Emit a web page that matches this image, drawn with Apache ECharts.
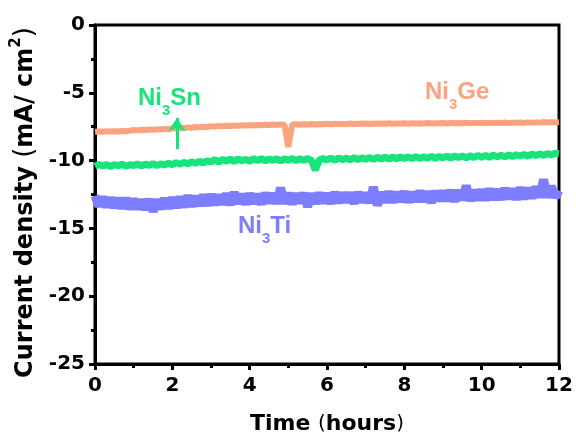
<!DOCTYPE html>
<html>
<head>
<meta charset="utf-8">
<script src="https://cdn.jsdelivr.net/npm/echarts@6/dist/echarts.min.js"></script>
<style>html,body{margin:0;padding:0;background:#fff;}#c{width:576px;height:440px;}</style>
</head>
<body>
<div id="c"></div>
<script>
var xTicks = [0, 2, 4, 6, 8, 10, 12];
var yTicks = [-25, -20, -15, -10, -5, 0];

var time = [
0,0.1,0.2,0.3,0.4,0.5,0.6,0.7,0.8,0.9,
1,1.1,1.2,1.3,1.4,1.5,1.6,1.7,1.8,1.9,
2,2.1,2.2,2.3,2.4,2.5,2.6,2.7,2.8,2.9,
3,3.1,3.2,3.3,3.4,3.5,3.6,3.7,3.8,3.9,
4,4.1,4.2,4.3,4.4,4.5,4.6,4.7,4.8,4.9,
5,5.1,5.2,5.3,5.4,5.5,5.6,5.7,5.8,5.9,
6,6.1,6.2,6.3,6.4,6.5,6.6,6.7,6.8,6.9,
7,7.1,7.2,7.3,7.4,7.5,7.6,7.7,7.8,7.9,
8,8.1,8.2,8.3,8.4,8.5,8.6,8.7,8.8,8.9,
9,9.1,9.2,9.3,9.4,9.5,9.6,9.7,9.8,9.9,
10,10.1,10.2,10.3,10.4,10.5,10.6,10.7,10.8,10.9,
11,11.1,11.2,11.3,11.4,11.5,11.6,11.7,11.8,11.9,
12];

var ni3Ge = [
-7.88,-7.85,-7.87,-7.84,-7.86,-7.83,-7.85,-7.81,-7.83,-7.79,
-7.74,-7.77,-7.72,-7.75,-7.70,-7.73,-7.68,-7.71,-7.66,-7.69,
-7.60,-7.63,-7.58,-7.61,-7.55,-7.58,-7.52,-7.54,-7.50,-7.52,
-7.46,-7.49,-7.44,-7.47,-7.43,-7.45,-7.41,-7.44,-7.40,-7.42,
-7.38,-7.41,-7.37,-7.39,-7.35,-7.38,-7.34,-7.37,-7.33,-7.35,
-9.00,-7.34,-7.31,-7.35,-7.32,-7.34,-7.30,-7.33,-7.30,-7.32,
-7.29,-7.32,-7.28,-7.31,-7.29,-7.31,-7.27,-7.30,-7.28,-7.29,
-7.27,-7.30,-7.26,-7.29,-7.27,-7.29,-7.25,-7.28,-7.26,-7.27,
-7.25,-7.28,-7.24,-7.27,-7.25,-7.26,-7.23,-7.26,-7.24,-7.25,
-7.23,-7.26,-7.22,-7.25,-7.23,-7.24,-7.21,-7.24,-7.22,-7.23,
-7.21,-7.24,-7.20,-7.23,-7.21,-7.22,-7.19,-7.22,-7.20,-7.21,
-7.19,-7.22,-7.18,-7.21,-7.18,-7.20,-7.16,-7.19,-7.17,-7.18,
-7.15];

var ni3Sn = [
-10.42,-10.28,-10.40,-10.30,-10.44,-10.29,-10.38,-10.27,-10.41,-10.30,
-10.36,-10.25,-10.39,-10.26,-10.35,-10.22,-10.37,-10.24,-10.32,-10.20,
-10.30,-10.15,-10.27,-10.12,-10.24,-10.08,-10.20,-10.05,-10.18,-10.02,
-10.10,-9.92,-10.12,-9.90,-10.05,-9.88,-10.08,-9.86,-10.02,-9.90,
-10.05,-9.86,-10.00,-9.84,-10.02,-9.88,-9.98,-9.85,-10.04,-9.86,
-9.98,-9.84,-10.00,-9.86,-9.97,-9.85,-9.99,-10.70,-9.96,-9.84,
-9.95,-9.82,-9.97,-9.80,-9.93,-9.81,-9.95,-9.78,-9.92,-9.80,
-9.90,-9.77,-9.92,-9.76,-9.88,-9.75,-9.90,-9.74,-9.86,-9.73,
-9.85,-9.72,-9.86,-9.70,-9.84,-9.72,-9.82,-9.69,-9.83,-9.70,
-9.80,-9.67,-9.82,-9.66,-9.78,-9.65,-9.80,-9.64,-9.77,-9.63,
-9.75,-9.62,-9.76,-9.60,-9.73,-9.61,-9.72,-9.58,-9.70,-9.57,
-9.66,-9.54,-9.68,-9.52,-9.63,-9.50,-9.62,-9.48,-9.58,-9.46,
-9.50];

var ni3Ti = [
-12.60,-13.35,-12.70,-13.40,-12.75,-13.45,-12.80,-13.50,-12.78,-13.55,
-12.85,-13.55,-12.90,-13.60,-12.85,-13.75,-12.90,-13.55,-12.80,-13.50,
-12.75,-13.45,-12.70,-13.40,-12.60,-13.35,-12.65,-13.30,-12.55,-13.30,
-12.50,-13.25,-12.55,-13.20,-12.45,-13.25,-12.35,-13.15,-12.50,-13.20,
-12.45,-13.15,-12.50,-13.20,-12.40,-13.10,-12.45,-13.15,-12.00,-13.15,
-12.40,-13.20,-12.45,-13.10,-12.40,-13.40,-12.45,-13.15,-12.40,-13.10,
-12.45,-13.15,-12.35,-13.10,-12.40,-13.05,-12.40,-13.15,-12.35,-13.05,
-12.40,-13.10,-11.95,-13.30,-12.35,-13.05,-12.30,-13.05,-12.35,-13.00,
-12.30,-13.05,-12.35,-13.00,-12.25,-13.00,-12.30,-13.10,-12.25,-12.95,
-12.25,-12.95,-12.20,-13.00,-12.20,-12.90,-11.85,-12.95,-12.20,-12.90,
-12.15,-12.90,-12.10,-12.85,-12.15,-12.85,-12.05,-12.80,-12.10,-12.85,
-12.00,-12.80,-12.05,-12.75,-11.95,-12.70,-11.40,-12.70,-11.90,-12.70,
-12.20];

var arrowStart = [2.12, -9.15];
var arrowEnd = [2.12, -6.85];

var cGe = '#FBA37F', cSn = '#17E57C', cTi = '#7D7DFF';

function pairs(vals) { return time.map(function (t, i) { return [t, vals[i]]; }); }

var chart = echarts.init(document.getElementById('c'), null, {renderer: 'canvas'});
var tickFont = {fontFamily: 'DejaVu Sans', fontWeight: 'bold', fontSize: 20, color: '#000'};
var labelRich = function (col) {
  return {
    a: {fontFamily: 'Liberation Sans', fontWeight: 'bold', fontSize: 24, lineHeight: 32, fill: col, color: col, verticalAlign: 'top'},
    s: {fontFamily: 'Liberation Sans', fontWeight: 'bold', fontSize: 15, lineHeight: 10, fill: col, color: col, verticalAlign: 'bottom'}
  };
};
chart.setOption({
  animation: false,
  grid: {left: 95, right: 17, top: 25, bottom: 74, show: true, borderColor: '#000', borderWidth: 3, backgroundColor: 'transparent'},
  xAxis: {
    type: 'value', min: xTicks[0], max: xTicks[xTicks.length - 1], interval: 2,
    name: '{b|Time }{p|(}{b|hours}{p|)}', nameLocation: 'middle', nameGap: 49,
    nameTextStyle: {rich: {
      b: {fontFamily: 'DejaVu Sans', fontWeight: 'bold', fontSize: 22, color: '#000'},
      p: {fontFamily: 'DejaVu Sans', fontWeight: 'normal', fontSize: 20, color: '#000'}
    }},
    axisLine: {onZero: false, lineStyle: {color: '#000', width: 3}},
    axisTick: {inside: false, length: 6, lineStyle: {width: 3, color: '#000'}},
    minorTick: {show: true, splitNumber: 2, length: 4, lineStyle: {width: 3, color: '#000'}},
    splitLine: {show: false},
    axisLabel: Object.assign({margin: 12}, tickFont)
  },
  yAxis: {
    type: 'value', min: yTicks[0], max: yTicks[yTicks.length - 1], interval: 5,
    name: '{b|Current density }{p|(}{b|mA/ cm}{sup|2}{p|)}', nameLocation: 'middle', nameGap: 56, nameRotate: 90,
    nameTextStyle: {padding: [0, 16, 0, 0], rich: {
      b: {fontFamily: 'DejaVu Sans', fontWeight: 'bold', fontSize: 24, color: '#000', verticalAlign: 'bottom'},
      p: {fontFamily: 'DejaVu Sans', fontWeight: 'normal', fontSize: 26, color: '#000', verticalAlign: 'bottom'},
      sup: {fontFamily: 'DejaVu Sans', fontWeight: 'bold', fontSize: 15, color: '#000', verticalAlign: 'top', padding: [0, 0, 14, 0]}
    }},
    axisLine: {onZero: false, lineStyle: {color: '#000', width: 3}},
    axisTick: {inside: false, length: 6, lineStyle: {width: 3, color: '#000'}},
    minorTick: {show: true, splitNumber: 2, length: 4, lineStyle: {width: 3, color: '#000'}},
    splitLine: {show: false},
    axisLabel: Object.assign({margin: 10}, tickFont)
  },
  series: [
    {name: 'Ni3Ge', type: 'line', data: pairs(ni3Ge), showSymbol: false, lineStyle: {color: cGe, width: 6}, z: 2},
    {name: 'Ni3Sn', type: 'line', data: pairs(ni3Sn), showSymbol: false, lineStyle: {color: cSn, width: 7}, z: 3,
      markLine: {silent: true, symbol: ['none', 'arrow'], symbolSize: [13, 13], label: {show: false},
        lineStyle: {color: cSn, width: 3, type: 'solid'},
        data: [[{coord: arrowStart}, {coord: arrowEnd}]]}},
    {name: 'Ni3Ti', type: 'line', data: pairs(ni3Ti), showSymbol: false, lineStyle: {color: cTi, width: 9}, z: 2}
  ],
  graphic: [
    {type: 'text', left: 138, top: 86, z: 10, style: {text: '{a|Ni}{s|3}{a|Sn}', rich: labelRich(cSn), fill: cSn}},
    {type: 'text', left: 425, top: 80, z: 10, style: {text: '{a|Ni}{s|3}{a|Ge}', rich: labelRich(cGe), fill: cGe}},
    {type: 'text', left: 238, top: 214, z: 10, style: {text: '{a|Ni}{s|3}{a|Ti}', rich: labelRich(cTi), fill: cTi}}
  ]
});
</script>
</body>
</html>
